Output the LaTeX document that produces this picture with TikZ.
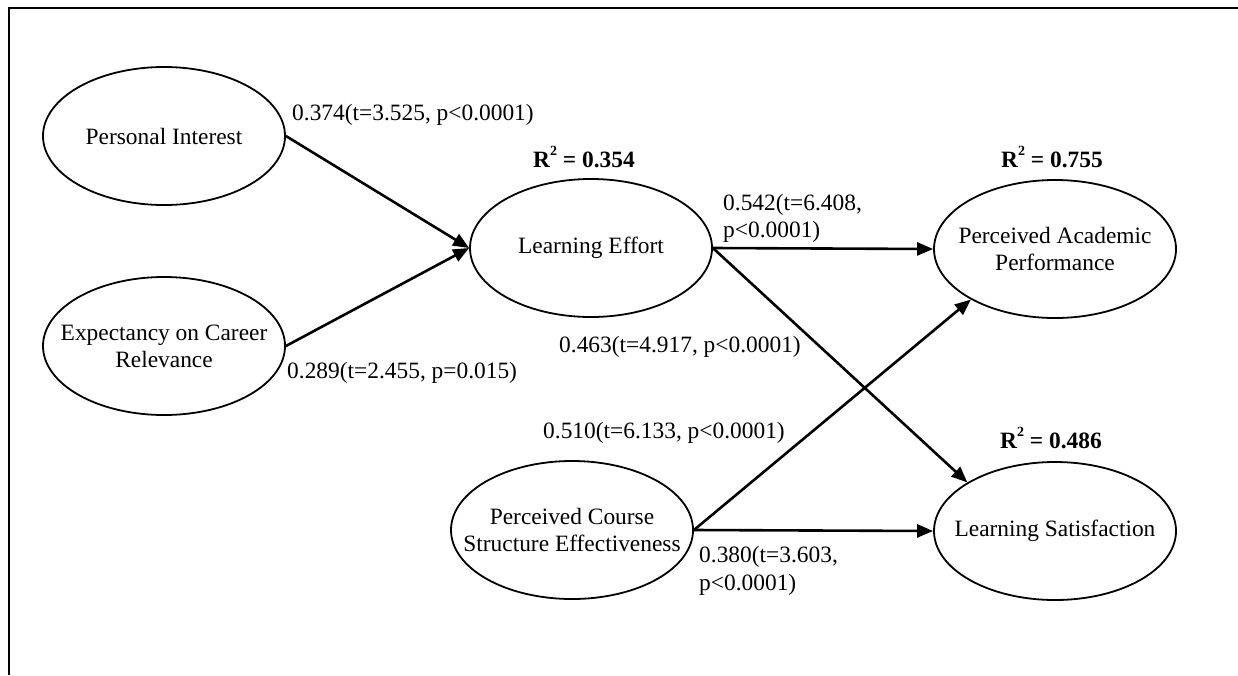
\documentclass[tikz,border=0pt]{standalone}
\usepackage{fontspec}
\setmainfont{Liberation Serif}
\usetikzlibrary{shapes.geometric,arrows.meta}
\newcommand{\rsup}{\raisebox{0.5em}{\fontsize{14}{14}\selectfont 2}}
\begin{document}
\begin{tikzpicture}[x=1pt,y=-1pt,
  construct/.style={ellipse,draw,line width=1.8pt,minimum width=242pt,minimum height=138pt,inner sep=0pt},
  ctext/.style={inner sep=0pt,align=center,font=\fontsize{23.4}{27}\selectfont},
  path/.style={line width=2.6pt,-{Triangle[length=16pt,width=13pt]}},
  lbl/.style={anchor=west,inner sep=0pt,align=left,font=\fontsize{23.4}{27.5}\selectfont},
  rsq/.style={inner sep=0pt,font=\fontsize{23.4}{27}\selectfont\bfseries}]
\useasboundingbox (0,0) rectangle (1238,675);
\coordinate (fa) at (9,675);
\coordinate (fb) at (9,8);
\coordinate (fc) at (1238,8);
\draw[line width=1.8pt] (fa) -- (fb) -- (fc);

\node[construct] (PI) at (164,136) {};
\node[construct] (ECR) at (164,346) {};
\node[construct] (LE) at (591,248) {};
\node[construct] (PAP) at (1055,249) {};
\node[construct] (LS) at (1055,531) {};
\node[construct] (PCSE) at (572,530) {};

\node[ctext] (PIt) at (PI) {Personal Interest};
\node[ctext] (ECRt) at (ECR) {Expectancy on Career\\Relevance};
\node[ctext] (LEt) at (LE) {Learning Effort};
\node[ctext] (PAPt) at (PAP) {Perceived Academic\\Performance};
\node[ctext] (LSt) at (LS) {Learning Satisfaction};
\node[ctext] (PCSEt) at (PCSE) {Perceived Course\\Structure Effectiveness};

\draw[path] (PI.east) -- (LE.west);
\draw[path] (ECR.east) -- (LE.west);
\draw[path] (LE.east) -- (PAP.west);
\draw[path] (LE.east) -- (LS.151);
\draw[path] (PCSE.east) -- (PAP.211);
\draw[path] (PCSE.east) -- (LS.west);

\node[rsq] (r1) at (584,157) {R\rsup{} = 0.354};
\node[rsq] (r2) at (1052,157) {R\rsup{} = 0.755};
\node[rsq] (r3) at (1051,438) {R\rsup{} = 0.486};

\node[lbl] (l1) at (292,115) {0.374(t=3.525, p<0.0001)};
\node[lbl] (l2) at (287,373) {0.289(t=2.455, p=0.015)};
\node[lbl] (l3) at (723,218.5) {0.542(t=6.408,\\p<0.0001)};
\node[lbl] (l4) at (559,347) {0.463(t=4.917, p<0.0001)};
\node[lbl] (l5) at (543,433) {0.510(t=6.133, p<0.0001)};
\node[lbl] (l6) at (699,571) {0.380(t=3.603,\\p<0.0001)};
\end{tikzpicture}
\end{document}
